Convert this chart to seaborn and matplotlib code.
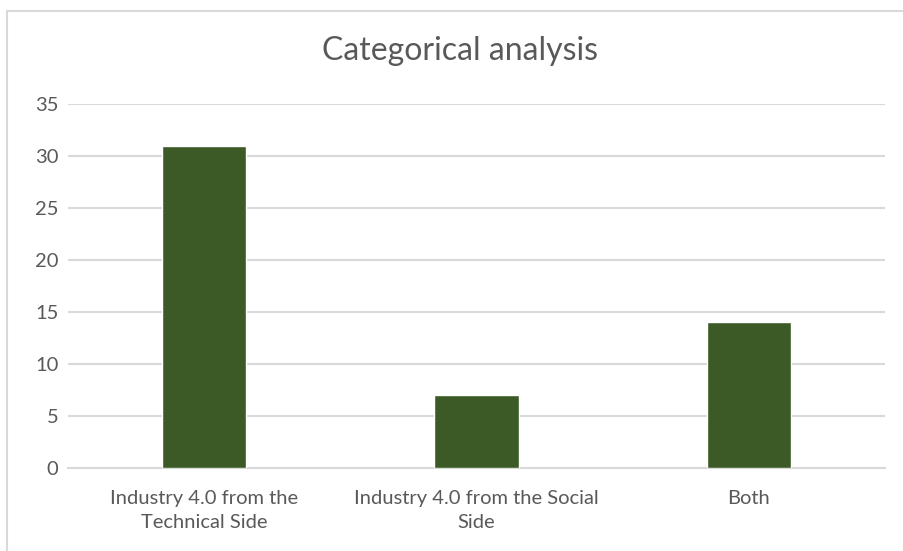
import matplotlib
matplotlib.use("Agg")
import matplotlib.pyplot as plt
import seaborn as sns
import pandas as pd
from matplotlib.patches import Rectangle

categories = ["Industry 4.0 from the\nTechnical Side",
              "Industry 4.0 from the Social\nSide",
              "Both"]
counts = [31, 7, 14]
y_ticks = [0, 5, 10, 15, 20, 25, 30, 35]

df = pd.DataFrame({"category": categories, "count": counts})

sns.set_style("white")
plt.rcParams['font.family'] = ['Lato', 'DejaVu Sans']

fig = plt.figure(figsize=(9.04, 5.51), dpi=100)
ax = fig.add_axes([0.0752, 0.1506, 0.9038, 0.6607])

sns.barplot(data=df, x="category", y="count", color="#3b5a25",
            width=0.31, saturation=1, ax=ax, zorder=3)

ax.set_ylim(0, 35)
ax.set_xlim(-0.5, 2.5)
ax.set_yticks(y_ticks)
ax.yaxis.grid(True, color="#d9d9d9", linewidth=1.5, zorder=0)
ax.set_axisbelow(True)
for s in ["left", "right", "top"]:
    ax.spines[s].set_visible(False)
ax.spines["bottom"].set_color("#d9d9d9")
ax.spines["bottom"].set_linewidth(1.5)
ax.tick_params(axis="both", length=0, labelsize=14.5, labelcolor="#595959")
ax.tick_params(axis="x", pad=16)
ax.tick_params(axis="y", pad=7)
for lbl in ax.get_xticklabels():
    lbl.set_linespacing(1.45)
ax.set_xlabel("")
ax.set_ylabel("")

fig.text(0.509, 0.907, "Categorical analysis", ha="center", va="center",
         fontsize=23, color="#595959")

# chart area border
fig.patches.append(Rectangle((0.008, -0.1), 1.1, 1.08, transform=fig.transFigure,
                             fill=False, edgecolor="#d9d9d9", linewidth=1.5))

fig.savefig("out.png", dpi=100)
